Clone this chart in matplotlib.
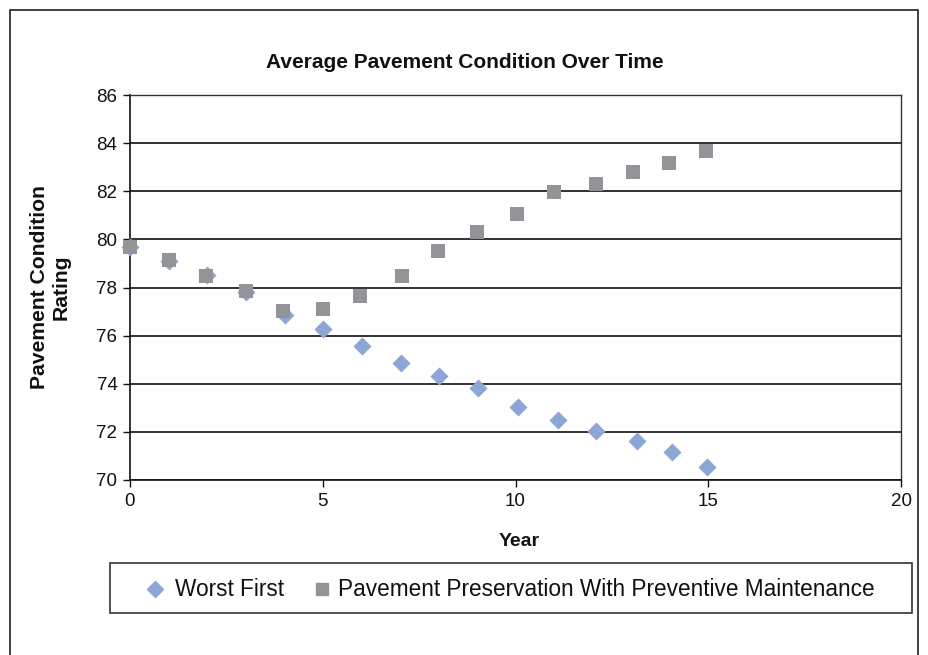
import matplotlib
matplotlib.use("Agg")
import matplotlib.pyplot as plt
from matplotlib.patches import Rectangle
from matplotlib.lines import Line2D

plt.rcParams['font.family'] = ['Liberation Sans', 'DejaVu Sans']

# Worst First series (x, slight offsets as drawn)
wf_years = [0, 1, 2, 3, 4.02, 5.01, 6.03, 7.02, 8.02, 9.04,
            10.07, 11.11, 12.1, 13.14, 14.05, 14.98]
worst_first = [79.68, 79.1, 78.52, 77.81, 76.86, 76.28, 75.57, 74.88, 74.34, 73.84,
               73.05, 72.51, 72.04, 71.62, 71.18, 70.53]
# Pavement Preservation series
pp_years = [0, 1.0, 1.97, 3.01, 3.98, 5.0, 5.97, 7.05, 7.98, 8.99,
            10.03, 11.0, 12.1, 13.04, 13.98, 14.94]
preservation = [79.68, 79.14, 78.48, 77.85, 77.04, 77.11, 77.63, 78.49, 79.51, 80.32,
                81.07, 81.95, 82.31, 82.81, 83.18, 83.66]
x_ticks = [0, 5, 10, 15, 20]
y_ticks = [70, 72, 74, 76, 78, 80, 82, 84, 86]

fig = plt.figure(figsize=(9.29, 6.55), dpi=100)
W, H = 929, 655

# outer frame
fig.patches.append(Rectangle((10 / W, -0.01), (918 - 10) / W, 1 - 10 / H + 0.01,
                             transform=fig.transFigure, fill=False,
                             edgecolor='#333333', linewidth=1.3))

ax = fig.add_axes([130 / W, 1 - 480 / H, (901 - 130) / W, (480 - 95) / H])
ax.set_xlim(0, 20)
ax.set_ylim(70, 86)
ax.set_xticks(x_ticks)
ax.set_yticks(y_ticks)
ax.yaxis.grid(True, color='#222222', linewidth=1.3)
ax.set_axisbelow(True)
for s in ['top', 'right']:
    ax.spines[s].set_color('#333333')
    ax.spines[s].set_linewidth(1.0)
for s in ['left', 'bottom']:
    ax.spines[s].set_color('#111111')
    ax.spines[s].set_linewidth(1.2)
ax.tick_params(axis='both', labelsize=13.5, length=5, width=1, direction='out',
               colors='#111111', pad=4)

ax.scatter(wf_years, worst_first, marker='D', s=85, color='#8EA6D6', linewidths=0,
           zorder=3, clip_on=False)
ax.scatter(pp_years, preservation, marker='s', s=100, color='#939497', linewidths=0,
           zorder=3, clip_on=False)

fig.text(465 / W, 1 - 63 / H, 'Average Pavement Condition Over Time',
         ha='center', va='center', fontsize=15, fontweight='bold', color='#111111')
fig.text(519 / W, 1 - 541 / H, 'Year', ha='center', va='center',
         fontsize=14, fontweight='bold', color='#111111')
fig.text(50 / W, 1 - 287 / H, 'Pavement Condition\nRating', ha='center', va='center',
         rotation=90, fontsize=15.2, fontweight='bold', color='#111111', linespacing=1.15)

# legend box
fig.patches.append(Rectangle((110 / W, 1 - 613 / H), (912 - 110) / W, 50 / H,
                             transform=fig.transFigure, fill=False,
                             edgecolor='#333333', linewidth=1.2))
fig.lines.append(Line2D([155 / W], [1 - 589 / H], marker='D', markersize=8.5,
                        color='#8EA6D6', linestyle='none', transform=fig.transFigure))
fig.text(175 / W, 1 - 589 / H, 'Worst First', ha='left', va='center',
         fontsize=16.3, color='#111111')
fig.lines.append(Line2D([322 / W], [1 - 589 / H], marker='s', markersize=9,
                        color='#939497', linestyle='none', transform=fig.transFigure))
fig.text(338 / W, 1 - 589 / H, 'Pavement Preservation With Preventive Maintenance',
         ha='left', va='center', fontsize=16.3, color='#111111')

fig.savefig('out.png', dpi=100)
